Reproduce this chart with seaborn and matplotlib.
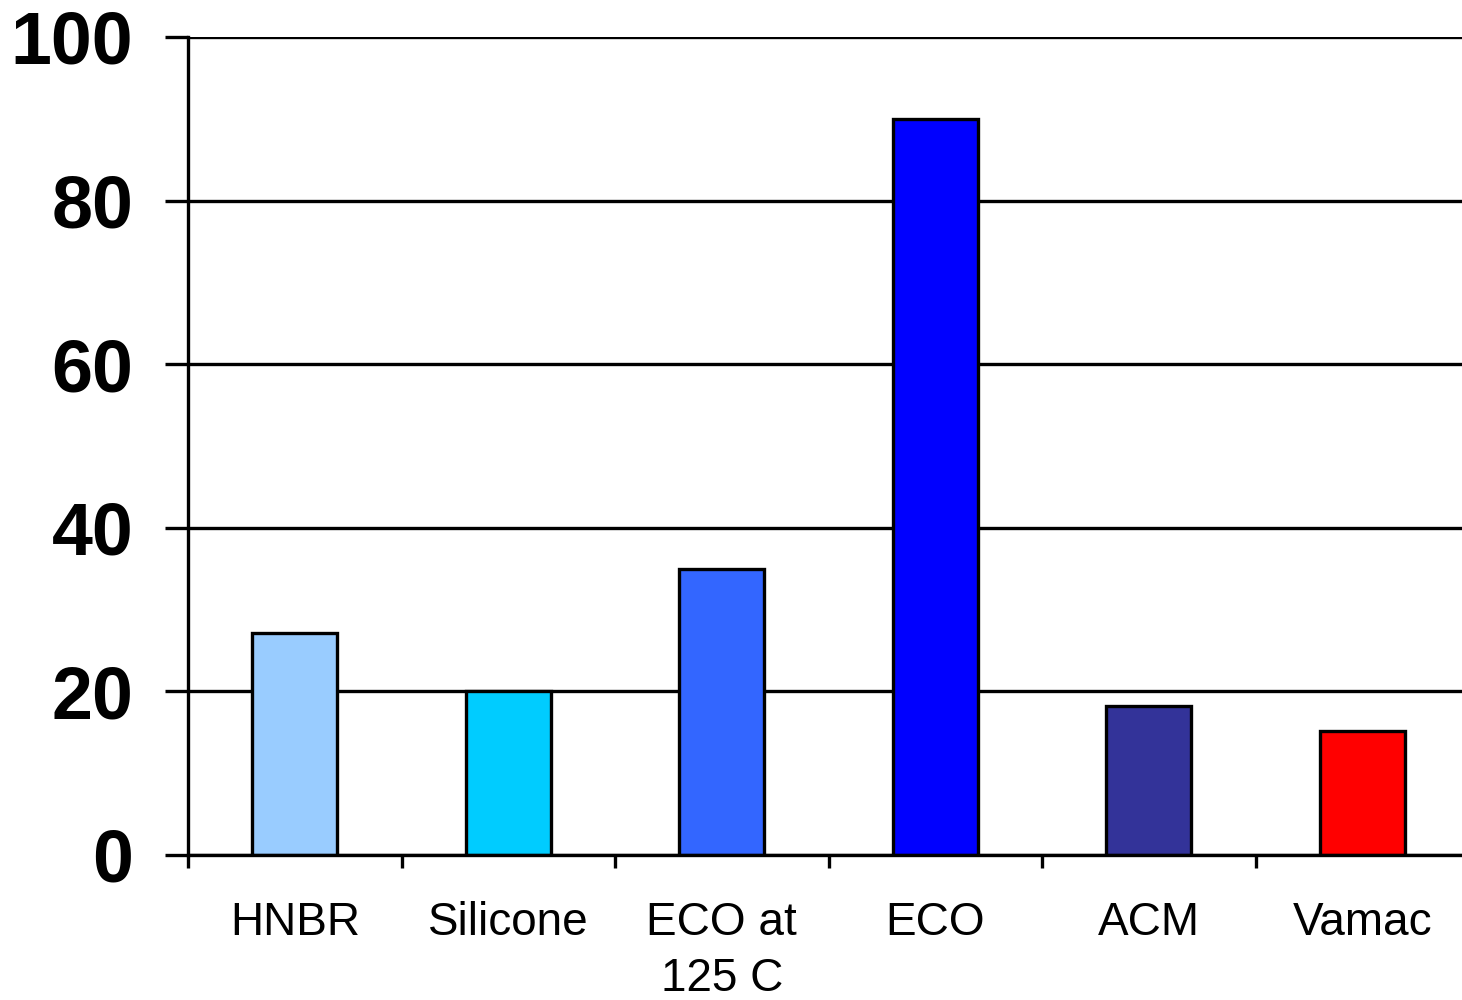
import numpy as np
import pandas as pd
import matplotlib
matplotlib.use('Agg')
import matplotlib.pyplot as plt
import seaborn as sns

materials = ['HNBR', 'Silicone', 'ECO at\n125 C', 'ECO', 'ACM', 'Vamac']
values = [27.2, 20, 35, 90, 18.2, 15.2]
bar_colors = ['#99CCFF', '#00CCFF', '#3366FF', '#0000FF', '#333399', '#FF0000']
y_ticks = [0, 20, 40, 60, 80, 100]

df = pd.DataFrame({'material': materials, 'value': values})

sns.set_style('white')
plt.rcParams['font.family'] = ['Liberation Sans', 'DejaVu Sans']

fig = plt.figure(figsize=(14.62, 10), dpi=100)
ax = fig.add_axes([188 / 1462, 145 / 1000, 1281 / 1462, 818 / 1000])

sns.barplot(data=df, x='material', y='value', hue='material',
            palette=bar_colors, legend=False, width=0.4,
            edgecolor='black', linewidth=2.4, saturation=1, ax=ax)

ax.set_xlim(-0.5, 5.5)
ax.set_ylim(0, 100)
ax.set_xlabel('')
ax.set_ylabel('')

ax.yaxis.grid(True, color='black', linewidth=2.4)
ax.set_axisbelow(True)

ax.set_yticks(y_ticks)
ax.set_yticklabels([str(t) for t in y_ticks], fontsize=53, fontweight='bold')
ax.tick_params(axis='y', direction='out', length=16.5, width=2.4,
               pad=23, colors='black', labelcolor='black', left=True)

ax.set_xticks(np.arange(-0.5, 6, 1))
ax.set_xticklabels([])
ax.tick_params(axis='x', which='major', direction='out', length=9.5,
               width=2.4, bottom=True, colors='black')
ax.set_xticks(np.arange(len(materials)), minor=True)
ax.set_xticklabels(materials, minor=True, fontsize=33)
ax.tick_params(axis='x', which='minor', length=0, pad=33,
               labelcolor='black')
for lbl in ax.get_xticklabels(minor=True):
    lbl.set_verticalalignment('top')
    lbl.set_linespacing(1.36)

for side in ['top', 'right']:
    ax.spines[side].set_visible(False)
for side in ['left', 'bottom']:
    ax.spines[side].set_color('black')
    ax.spines[side].set_linewidth(2.4)

plt.savefig('out.png', dpi=100)
